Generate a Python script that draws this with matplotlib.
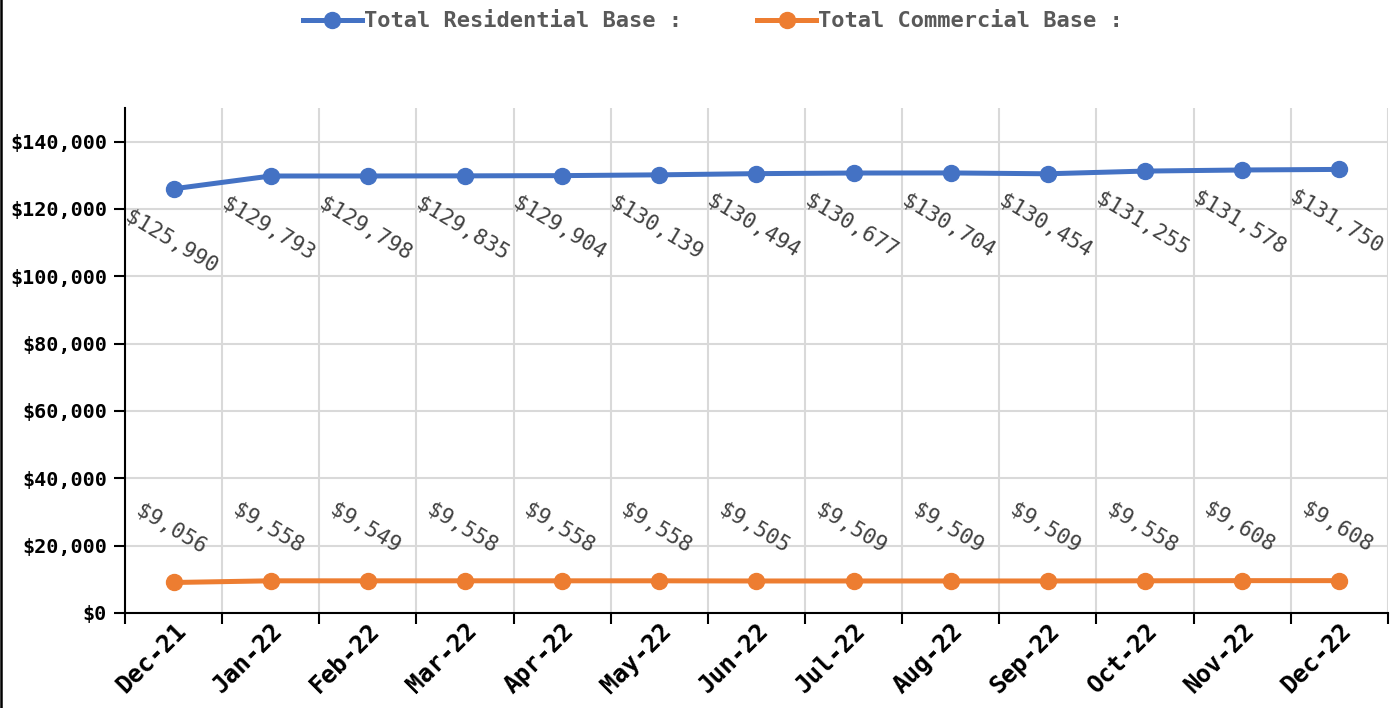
import matplotlib
matplotlib.use('Agg')
import matplotlib.pyplot as plt
import matplotlib.ticker as ticker
from matplotlib.lines import Line2D

# data
months = ['Dec-21', 'Jan-22', 'Feb-22', 'Mar-22', 'Apr-22', 'May-22', 'Jun-22',
          'Jul-22', 'Aug-22', 'Sep-22', 'Oct-22', 'Nov-22', 'Dec-22']
residential = [125990, 129793, 129798, 129835, 129904, 130139, 130494,
               130677, 130704, 130454, 131255, 131578, 131750]
commercial = [9056, 9558, 9549, 9558, 9558, 9558, 9505,
              9509, 9509, 9509, 9558, 9608, 9608]

mono = 'DejaVu Sans Mono'
blue = '#4472C4'
orange = '#ED7D31'

fig = plt.figure(figsize=(13.98, 7.08), dpi=100)
ax = fig.add_axes([0.0894, 0.1342, 0.9034, 0.7133])

x = list(range(len(months)))
ax.plot(x, residential, color=blue, lw=3.6, marker='o', markersize=11.5,
        label='Total Residential Base :', zorder=3)
ax.plot(x, commercial, color=orange, lw=3.6, marker='o', markersize=11.5,
        label='Total Commercial Base :', zorder=3)

# data labels
for xi, v in zip(x, residential):
    ax.annotate(f'${v:,}', (xi, v), xytext=(-2, -38), textcoords='offset points',
                ha='center', va='center', rotation=-31, fontsize=15.5,
                family=mono, color='#404040')
for xi, v in zip(x, commercial):
    ax.annotate(f'${v:,}', (xi, v), xytext=(-2, 38), textcoords='offset points',
                ha='center', va='center', rotation=-31, fontsize=15.5,
                family=mono, color='#404040')

ax.set_xlim(-0.5, len(months) - 0.5)
ax.set_ylim(0, 150000)
ax.yaxis.set_major_locator(ticker.MultipleLocator(20000))
ax.yaxis.set_major_formatter(ticker.FuncFormatter(lambda v, pos: f'${v:,.0f}'))

ax.set_xticks(x)
ax.set_xticklabels(months, rotation=45, ha='right', rotation_mode='anchor')
ax.set_xticks([i - 0.5 for i in range(len(months) + 1)], minor=True)
ax.tick_params(axis='x', which='major', length=0, pad=4)
ax.tick_params(axis='x', which='minor', length=8, width=1.5, color='black')
ax.tick_params(axis='y', length=8, width=1.5, pad=5)

for lab in ax.get_xticklabels():
    lab.set_family(mono)
    lab.set_fontweight('bold')
    lab.set_fontsize(17.5)
for lab in ax.get_yticklabels():
    lab.set_family(mono)
    lab.set_fontweight('bold')
    lab.set_fontsize(14.5)

ax.grid(True, axis='y', which='major', color='#d9d9d9', lw=1.5)
ax.grid(True, axis='x', which='minor', color='#d9d9d9', lw=1.5)
ax.set_axisbelow(True)

for s in ['top', 'right']:
    ax.spines[s].set_visible(False)
for s in ['left', 'bottom']:
    ax.spines[s].set_linewidth(1.5)
    ax.spines[s].set_zorder(4)

fig.legend(loc='upper center', bbox_to_anchor=(0.51, 1.012), ncol=2, frameon=False,
           prop={'family': mono, 'weight': 'bold', 'size': 15.8},
           labelcolor='#595959', handlelength=2.7, handletextpad=0.1,
           columnspacing=3.4)

# left border line of the figure
fig.add_artist(Line2D([0.001, 0.001], [0, 1], transform=fig.transFigure,
                      color='black', lw=1.8))

fig.savefig('out.png', dpi=100)
